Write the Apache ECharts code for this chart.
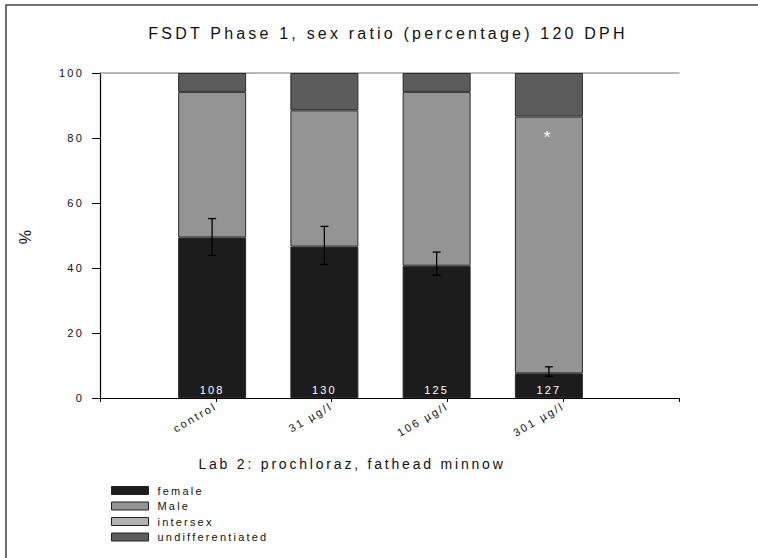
<!DOCTYPE html>
<html>
<head>
<meta charset="utf-8">
<script src="https://cdn.jsdelivr.net/npm/echarts@6/dist/echarts.min.js"></script>
<style>
  html, body { margin: 0; padding: 0; background: #fff; }
  #chart { width: 758px; height: 558px; }
  #chart text { letter-spacing: 0.2em; }
</style>
</head>
<body>
<div id="chart"></div>
<script>
// Treatment groups and sex-ratio percentages (stacked to 100 %)
const categories = ['control', '31 µg/l', '106 µg/l', '301 µg/l'];
const female = [49.4, 46.6, 40.7, 7.6];
const male = [44.8, 41.9, 53.5, 79.0];
const intersex = [0, 0, 0, 0];
const undifferentiated = [5.8, 11.5, 5.8, 13.4];
// Error bar ends for the female fraction
const femaleErrLow = [43.9, 41.1, 37.8, 6.7];
const femaleErrHigh = [55.2, 52.8, 44.9, 9.6];
// Number of fish per group and significance marks
const counts = [108, 130, 125, 127];
const significance = ['', '', '', '*'];
const yTicks = [0, 20, 40, 60, 80, 100];

const FONT = '"Liberation Sans", Arial, sans-serif';
const colors = {
  female: '#1c1c1c',
  male: '#949494',
  intersex: '#b2b2b2',
  undiff: '#5c5c5c'
};

const chart = echarts.init(document.getElementById('chart'), null, { renderer: 'svg' });

// Grid 0 carries the visible frame axes, grid 1 the bars themselves
const barBase = {
  type: 'bar',
  stack: 'sex',
  xAxisIndex: 2,
  yAxisIndex: 1,
  barWidth: 68,
  emphasis: { disabled: true },
  animation: false
};

const yRange = { min: yTicks[0], max: yTicks[yTicks.length - 1] };

chart.setOption({
  backgroundColor: '#fff',
  animation: false,
  textStyle: { fontFamily: FONT },
  grid: [
    { left: 100, right: 79, top: 73, bottom: 160 },
    { left: 156, right: 153, top: 73, bottom: 160 }
  ],
  graphic: [
    {
      type: 'rect',
      shape: { x: 6, y: 5, width: 900, height: 700 },
      style: { fill: 'none', stroke: '#4a4a4a', lineWidth: 1.6 },
      silent: true
    },
    {
      type: 'text', x: 388, y: 33,
      style: {
        text: 'FSDT Phase 1, sex ratio (percentage) 120 DPH',
        font: '16px ' + FONT, fill: '#111',
        textAlign: 'center', textVerticalAlign: 'middle'
      }
    },
    {
      type: 'text', x: 352, y: 464,
      style: {
        text: 'Lab 2: prochloraz, fathead minnow',
        font: '14px ' + FONT, fill: '#111',
        textAlign: 'center', textVerticalAlign: 'middle'
      }
    }
  ],
  legend: {
    orient: 'vertical',
    left: 106,
    top: 479,
    height: 120,
    itemWidth: 37,
    itemHeight: 8,
    itemGap: 2.5,
    icon: 'rect',
    itemStyle: { borderColor: '#222', borderWidth: 1 },
    textStyle: { fontSize: 11, lineHeight: 13, color: '#111', fontFamily: FONT, padding: [0, 0, 0, 4] },
    data: ['female', 'Male', 'intersex', 'undifferentiated'],
    selectedMode: false
  },
  xAxis: [
    {
      gridIndex: 0,
      type: 'value',
      position: 'bottom',
      min: 0,
      max: categories.length + 1,
      interval: 1,
      axisLine: { show: true, lineStyle: { color: '#000', width: 1.2 } },
      axisTick: { show: true, length: 4, lineStyle: { color: '#000' } },
      splitLine: { show: false },
      axisLabel: {
        rotate: 30,
        margin: 7,
        fontSize: 11,
        color: '#111',
        fontFamily: FONT,
        formatter: v => categories[v - 1] || ''
      }
    },
    {
      gridIndex: 0,
      type: 'value',
      position: 'top',
      min: 0,
      max: 1,
      axisLine: { show: true, onZero: false, lineStyle: { color: '#a0a0a0', width: 1.5 } },
      axisTick: { show: false },
      axisLabel: { show: false },
      splitLine: { show: false }
    },
    {
      gridIndex: 1,
      type: 'category',
      data: categories,
      show: false
    }
  ],
  yAxis: [
    Object.assign({
      gridIndex: 0,
      type: 'value',
      interval: 20,
      name: '%',
      nameLocation: 'middle',
      nameGap: 67,
      nameTextStyle: { fontSize: 16, color: '#111', fontFamily: FONT },
      axisLine: { show: true, lineStyle: { color: '#000', width: 1.2 } },
      axisTick: { show: true, length: 8, lineStyle: { color: '#000' } },
      splitLine: { show: false },
      axisLabel: { fontSize: 11, color: '#111', margin: 16, fontFamily: FONT }
    }, yRange),
    Object.assign({ gridIndex: 1, type: 'value', show: false, splitLine: { show: false } }, yRange)
  ],
  series: [
    Object.assign({}, barBase, {
      name: 'female',
      color: colors.female,
      itemStyle: { color: colors.female, borderColor: '#2a2a2a', borderWidth: 1 },
      data: female,
      label: {
        show: true,
        position: 'insideBottom',
        distance: 3,
        color: '#fff',
        fontSize: 11,
        fontFamily: FONT,
        formatter: p => String(counts[p.dataIndex])
      }
    }),
    Object.assign({}, barBase, {
      name: 'Male',
      color: colors.male,
      itemStyle: { color: colors.male, borderColor: '#2a2a2a', borderWidth: 1 },
      data: male,
      label: {
        show: true,
        position: 'insideTop',
        distance: 12,
        color: '#fff',
        fontSize: 17,
        fontFamily: FONT,
        formatter: p => significance[p.dataIndex]
      }
    }),
    Object.assign({}, barBase, {
      name: 'intersex',
      color: colors.intersex,
      itemStyle: { color: colors.intersex, borderWidth: 0 },
      data: intersex
    }),
    Object.assign({}, barBase, {
      name: 'undifferentiated',
      color: colors.undiff,
      itemStyle: { color: colors.undiff, borderColor: '#2a2a2a', borderWidth: 1 },
      data: undifferentiated
    }),
    {
      type: 'custom',
      name: 'female error',
      xAxisIndex: 2,
      yAxisIndex: 1,
      silent: true,
      z: 10,
      data: femaleErrLow.map((lo, i) => [i, lo, femaleErrHigh[i]]),
      renderItem: function (params, api) {
        const x = api.value(0);
        const lo = api.coord([x, api.value(1)]);
        const hi = api.coord([x, api.value(2)]);
        const cap = 4;
        const st = { stroke: '#000', lineWidth: 1.3 };
        return {
          type: 'group',
          children: [
            { type: 'line', shape: { x1: lo[0], y1: lo[1], x2: hi[0], y2: hi[1] }, style: st },
            { type: 'line', shape: { x1: lo[0] - cap, y1: lo[1], x2: lo[0] + cap, y2: lo[1] }, style: st },
            { type: 'line', shape: { x1: hi[0] - cap, y1: hi[1], x2: hi[0] + cap, y2: hi[1] }, style: st }
          ]
        };
      }
    }
  ]
});
</script>
</body>
</html>
